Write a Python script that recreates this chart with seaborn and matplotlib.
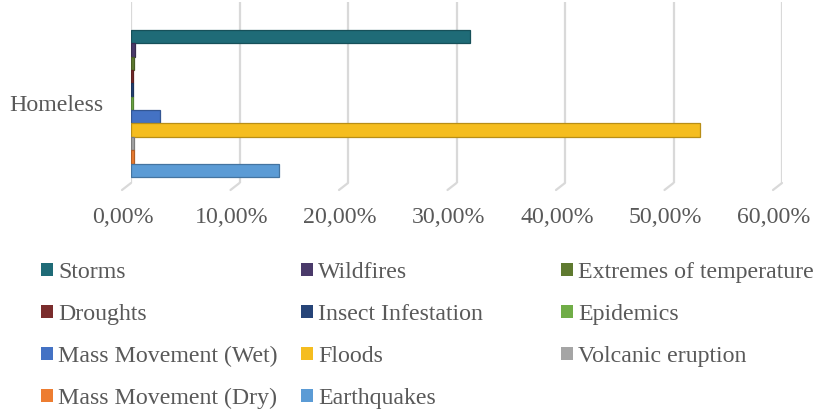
import matplotlib
matplotlib.use("Agg")
import matplotlib.pyplot as plt
import matplotlib.transforms as mtransforms
from matplotlib.patches import Patch
from matplotlib.ticker import FuncFormatter
import matplotlib.colors as mcolors
import seaborn as sns
import pandas as pd

# ---- data ----
categories = ["Homeless"]
series = ["Storms", "Wildfires", "Extremes of temperature", "Droughts",
          "Insect Infestation", "Epidemics", "Mass Movement (Wet)", "Floods",
          "Volcanic eruption", "Mass Movement (Dry)", "Earthquakes"]
values = [31.2, 0.35, 0.25, 0.2, 0.2, 0.2, 2.7, 52.4, 0.25, 0.25, 13.6]
colors = ["#1f6b77", "#4a3a6a", "#5f7a30", "#7a2c2c", "#264478", "#70ad47",
          "#4472c4", "#f5bd1f", "#a5a5a5", "#ed7d31", "#5b9bd5"]
xticks = [0, 10, 20, 30, 40, 50, 60]

df = pd.DataFrame({"cat": categories * len(series), "series": series, "value": values})

sns.set_theme(style="white")
plt.rcParams["font.family"] = ["Liberation Serif", "DejaVu Serif"]
TXT = "#595959"
FS = 17.2

W, H = 817, 413
fig = plt.figure(figsize=(W / 100, H / 100), dpi=100)
ax = fig.add_axes([131 / W, 1 - 183 / H, (782 - 131) / W, (183 - 2) / H])

pal = dict(zip(series, colors))
sns.barplot(data=df, y="cat", x="value", hue="series", hue_order=series,
            palette=pal, orient="h", ax=ax, legend=False, width=0.8,
            saturation=1)

for p, c in zip(ax.patches, colors):
    dark = tuple(v * 0.75 for v in mcolors.to_rgb(c))
    p.set_edgecolor(dark)
    p.set_linewidth(0.9)
    p.set_zorder(3)

ax.set_xlim(0, 60)
ax.set_ylim(0.433, -0.552)
ax.set_xticks(xticks)
ax.xaxis.set_major_formatter(FuncFormatter(lambda v, _: f"{v:.2f}%".replace(".", ",")))
ax.grid(axis="x", color="#d9d9d9", linewidth=1.6, zorder=0)
ax.set_axisbelow(True)
for s in ax.spines.values():
    s.set_visible(False)
ax.set_xlabel("")
ax.set_ylabel("")
ax.tick_params(axis="x", length=0, pad=17, labelsize=FS, labelcolor=TXT)
ax.tick_params(axis="y", length=0, pad=20, labelsize=FS, labelcolor=TXT)

off = mtransforms.ScaledTranslation(-8 / 100, 0, fig.dpi_scale_trans)
for lab in ax.get_xticklabels():
    lab.set_transform(lab.get_transform() + off)

# small slanted "floor" strokes under each gridline (3-D look)
btrans = mtransforms.blended_transform_factory(ax.transData, ax.transAxes)
for xv in xticks:
    ax.annotate("", xy=(xv, 0), xycoords=btrans,
                xytext=(-9, -7), textcoords="offset pixels",
                arrowprops=dict(arrowstyle="-", color="#d9d9d9", lw=1.6,
                                shrinkA=0, shrinkB=0),
                annotation_clip=False)

# ---- legend: three columns, row-major order like the original ----
cols = [[0, 3, 6, 9], [1, 4, 7, 10], [2, 5, 8]]
col_x = [41, 301, 561]
for idxs, cx in zip(cols, col_x):
    handles = [Patch(facecolor=colors[i], edgecolor="none") for i in idxs]
    labels = [series[i] for i in idxs]
    fig.legend(handles, labels, loc="upper left",
               bbox_to_anchor=(cx / W, 1 - 262 / H),
               frameon=False, fontsize=FS, labelcolor=TXT,
               handlelength=0.5, handleheight=0.47, handletextpad=0.22,
               labelspacing=0.88, borderpad=0, borderaxespad=0)

fig.savefig("out.png", dpi=100)
